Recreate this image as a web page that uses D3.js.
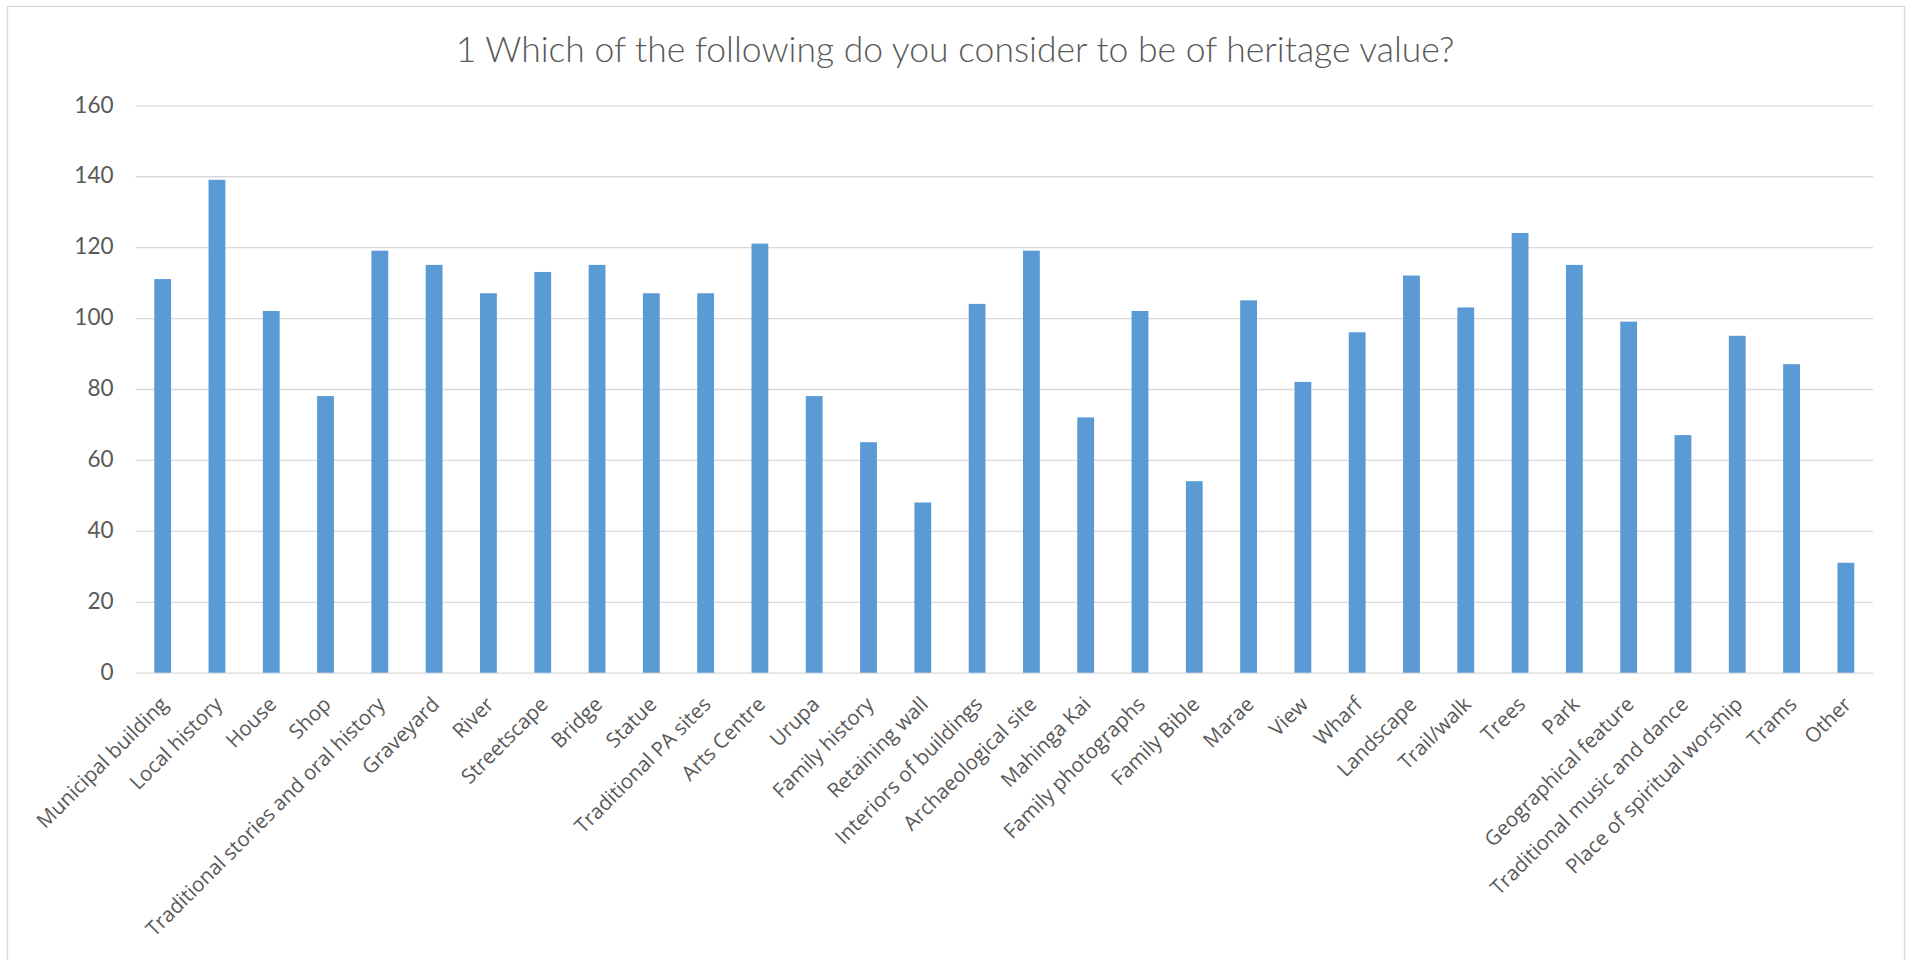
<!DOCTYPE html>
<html>
<head>
<meta charset="utf-8">
<script src="https://cdn.jsdelivr.net/npm/d3@7/dist/d3.min.js"></script>
<style>
  body { margin: 0; background: #fff; }
  svg { display: block; }
</style>
</head>
<body>
<div id="chart"></div>
<script>
// chart data
var chartTitle = "1 Which of the following do you consider to be of heritage value?";
var categories = ["Municipal building", "Local history", "House", "Shop",
  "Traditional stories and oral history", "Graveyard", "River", "Streetscape",
  "Bridge", "Statue", "Traditional PA sites", "Arts Centre", "Urupa",
  "Family history", "Retaining wall", "Interiors of buildings",
  "Archaeological site", "Mahinga Kai", "Family photographs", "Family Bible",
  "Marae", "View", "Wharf", "Landscape", "Trail/walk", "Trees", "Park",
  "Geographical feature", "Traditional music and dance",
  "Place of spiritual worship", "Trams", "Other"];
var counts = [111, 139, 102, 78, 119, 115, 107, 113, 115, 107, 107, 121, 78,
  65, 48, 104, 119, 72, 102, 54, 105, 82, 96, 112, 103, 124, 115, 99, 67,
  95, 87, 31];
var yTicks = [0, 20, 40, 60, 80, 100, 120, 140, 160];

var width = 1907;
var height = 960;
var plotLeft = 135.5, plotRight = 1873;
var plotTop = 105.3, plotBottom = 672.7;

var svg = d3.select("#chart")
            .append("svg")
            .attr("width", width)
            .attr("height", height);

// chart frame
svg.append("rect")
   .attr("x", 7.5)
   .attr("y", 6.5)
   .attr("width", 1897)
   .attr("height", 970)
   .attr("fill", "#fff")
   .attr("stroke", "#d9d9d9")
   .attr("stroke-width", 1.3);

var x = d3.scaleBand()
          .domain(categories)
          .range([plotLeft, plotRight])
          .paddingInner(0.69)
          .paddingOuter(0.345);

var y = d3.scaleLinear()
          .domain([0, 160])
          .range([plotBottom, plotTop]);

// gridlines + y labels
var yAxis = d3.axisLeft(y)
              .tickValues(yTicks)
              .tickSize(-(plotRight - plotLeft))
              .tickPadding(22);

var gy = svg.append("g")
            .attr("transform", "translate(" + plotLeft + ",0)")
            .call(yAxis);
gy.select(".domain").remove();
gy.selectAll(".tick line")
  .attr("stroke", "#d9d9d9")
  .attr("stroke-width", 1.3);
gy.selectAll(".tick text")
  .attr("fill", "#595959")
  .attr("dy", "0.3em")
  .style("font-family", "Lato, 'Liberation Sans', sans-serif")
  .style("font-size", "22.5px");

// bars
svg.selectAll("rect.bar")
   .data(counts)
   .enter()
   .append("rect")
   .attr("class", "bar")
   .attr("x", function(d, i) { return x(categories[i]); })
   .attr("y", function(d) { return y(d); })
   .attr("width", x.bandwidth())
   .attr("height", function(d) { return y(0) - y(d); })
   .attr("fill", "#5b9bd5");

// x labels, slanted 45 degrees
var gx = svg.append("g")
            .attr("transform", "translate(0," + plotBottom + ")")
            .call(d3.axisBottom(x).tickSize(0).tickPadding(0));
gx.select(".domain").remove();
gx.selectAll(".tick text")
  .attr("fill", "#595959")
  .style("font-family", "'Open Sans', sans-serif")
  .style("font-size", "20.5px")
  .attr("text-anchor", "end")
  .attr("dy", null)
  .attr("y", 0)
  .attr("transform", "translate(6.5,33) rotate(-45)");

// title
svg.append("text")
   .attr("x", 955)
   .attr("y", 61.7)
   .attr("text-anchor", "middle")
   .attr("fill", "#595959")
   .style("font-family", "Lato, 'Liberation Sans', sans-serif")
   .style("font-weight", 300)
   .style("font-size", "35.5px")
   .text(chartTitle);
</script>
</body>
</html>
